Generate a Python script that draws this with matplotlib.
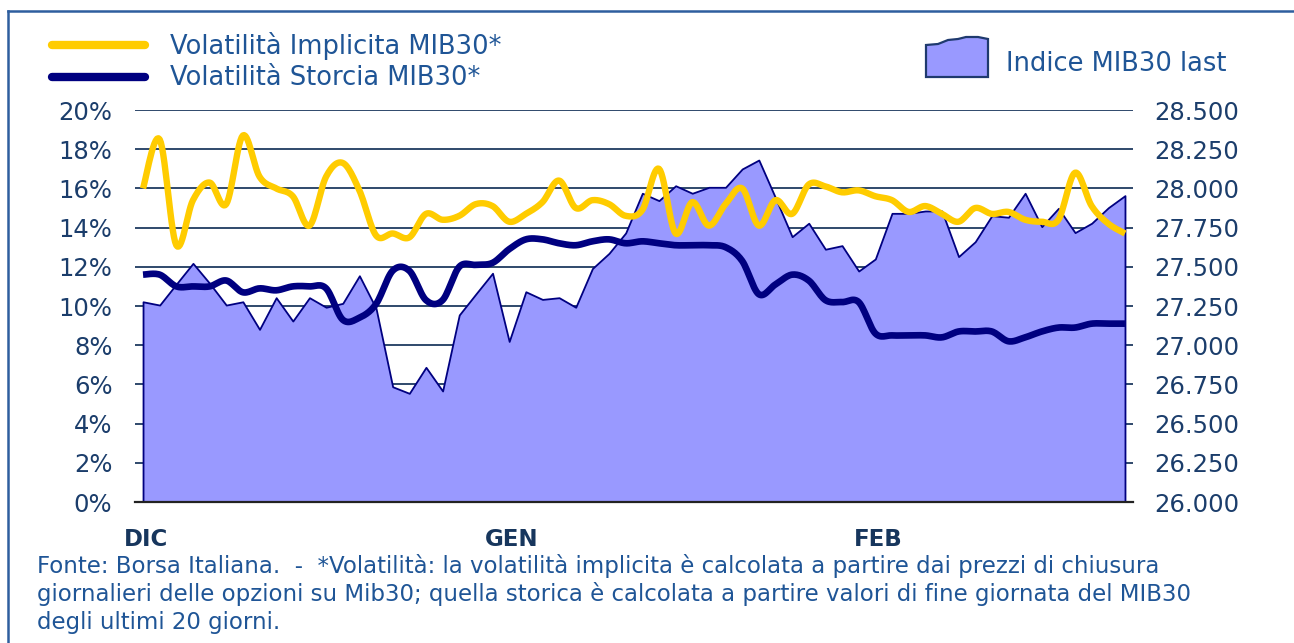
import matplotlib
matplotlib.use('Agg')
import matplotlib.pyplot as plt
import numpy as np
from matplotlib.lines import Line2D
from matplotlib.patches import Polygon
from matplotlib.ticker import FuncFormatter

plt.rcParams['font.family'] = ['DejaVu Sans']

# trading days Dec -> Feb (60 sessions)
mib30 = [27277, 27256, 27390, 27522, 27395, 27256, 27277, 27101, 27303, 27154,
         27303, 27242, 27267, 27443, 27235, 26735, 26693, 26859, 26708, 27193,
         27327, 27459, 27024, 27341, 27292, 27303, 27242, 27489, 27586, 27716,
         27969, 27922, 28017, 27969, 28007, 28007, 28124, 28181, 27940, 27692,
         27778, 27612, 27635, 27473, 27550, 27841, 27841, 27856, 27856, 27565,
         27660, 27826, 27816, 27969, 27756, 27873, 27718, 27778, 27877, 27954]
vol_impl = [16.0, 18.5, 13.1, 15.4, 16.3, 15.2, 18.7, 16.6, 16.0, 15.6,
            14.1, 16.6, 17.3, 15.9, 13.6, 13.7, 13.5, 14.7, 14.4, 14.6,
            15.2, 15.1, 14.3, 14.7, 15.3, 16.4, 15.0, 15.4, 15.2, 14.6,
            14.9, 17.0, 13.7, 15.3, 14.1, 15.2, 16.0, 14.1, 15.4, 14.7,
            16.2, 16.1, 15.8, 15.9, 15.6, 15.4, 14.8, 15.1, 14.7, 14.3,
            15.0, 14.7, 14.8, 14.4, 14.3, 14.4, 16.8, 15.1, 14.2, 13.7]
vol_stor = [11.6, 11.6, 11.0, 11.0, 11.0, 11.3, 10.7, 10.9, 10.8, 11.0,
            11.0, 10.9, 9.3, 9.4, 10.1, 11.8, 11.8, 10.3, 10.3, 12.0,
            12.1, 12.2, 12.9, 13.4, 13.4, 13.2, 13.1, 13.3, 13.4, 13.2,
            13.3, 13.2, 13.1, 13.1, 13.1, 13.0, 12.3, 10.6, 11.1, 11.6,
            11.3, 10.3, 10.2, 10.2, 8.6, 8.5, 8.5, 8.5, 8.4, 8.7,
            8.7, 8.7, 8.2, 8.4, 8.7, 8.9, 8.9, 9.1, 9.1, 9.1]
months = ['DIC', 'GEN', 'FEB']
month_start = [0, 22, 44]

TXT = '#1f5596'
AX_TXT = '#1b3d6b'
NAVY = '#000080'
YELLOW = '#ffcc00'
GRID = '#1f3a60'


def smooth(x, y, n=14):
    # Excel-like smoothed line (bezier with 1/6 handles)
    p = np.column_stack([x, y]).astype(float)
    q = np.vstack([p[0], p, p[-1]])
    t = np.linspace(0, 1, n, endpoint=False)[:, None]
    out = []
    for i in range(len(p) - 1):
        p0, p1, p2, p3 = q[i], q[i + 1], q[i + 2], q[i + 3]
        c1 = p1 + (p2 - p0) / 6
        c2 = p2 - (p3 - p1) / 6
        out.append((1 - t) ** 3 * p1 + 3 * (1 - t) ** 2 * t * c1 + 3 * (1 - t) * t ** 2 * c2 + t ** 3 * p2)
    out.append(p[-1][None, :])
    out = np.vstack(out)
    return out[:, 0], out[:, 1]


W, H = 1294, 643
fig = plt.figure(figsize=(W / 100, H / 100), dpi=100)
ax2 = fig.add_axes([134.7 / W, 141 / H, (1133.3 - 134.7) / W, (502 - 110) / H])
ax = ax2.twinx()
ax.yaxis.tick_left()
ax2.yaxis.tick_right()
ax.set_zorder(ax2.get_zorder() + 1)
ax.patch.set_visible(False)

x = np.arange(len(mib30))
n = len(mib30)

# index area on the right scale
ax2.fill_between(x, 26000, mib30, facecolor='#9999ff', edgecolor=NAVY, linewidth=1.3, zorder=2)
ax2.set_ylim(26000, 28500)
ax2.set_xlim(-0.5, n - 0.5)
ax2.set_yticks(np.arange(26000, 28501, 250))
ax2.yaxis.set_major_formatter(FuncFormatter(lambda v, p: f'{v:,.0f}'.replace(',', '.')))
ax2.grid(axis='y', color=GRID, linewidth=1.3, zorder=0)
ax2.set_axisbelow(True)

# volatility lines on the left scale
xs, ys = smooth(x, vol_impl)
ax.plot(xs, ys, color=YELLOW, linewidth=4.6, solid_capstyle='butt', zorder=3)
xs, ys = smooth(x, vol_stor)
ax.plot(xs, ys, color=NAVY, linewidth=4.8, solid_capstyle='butt', zorder=4)
ax.set_ylim(0, 20)
ax.set_yticks(np.arange(0, 21, 2))
ax.yaxis.set_major_formatter(FuncFormatter(lambda v, p: f'{v:.0f}%'))

for a in (ax, ax2):
    for s in a.spines.values():
        s.set_visible(False)
    a.tick_params(axis='y', length=0, labelsize=17.5, labelcolor=AX_TXT)
ax.tick_params(axis='y', pad=16)
ax2.tick_params(axis='y', pad=15)
ax.spines['bottom'].set_visible(True)
ax.spines['bottom'].set_color('#222222')
ax.spines['bottom'].set_linewidth(1.6)

ax.set_xticks([m - 0.5 for m in month_start])
ax.set_xticklabels([])
ax.tick_params(axis='x', length=6, width=1.4, color='#222222')
ax2.tick_params(axis='x', length=0, labelbottom=False)
for m, lab in zip(month_start, months):
    ax.text(m - 0.5 + 0.65, -0.095, lab, transform=ax.get_xaxis_transform(), ha='center', va='center',
            fontsize=16.5, fontweight='bold', color='#17365d')

# legend (drawn by hand in figure pixels)
def fx(px):
    return px / W


def fy(py):
    return 1 - py / H


fig.add_artist(Line2D([fx(52), fx(145)], [fy(45), fy(45)], color=YELLOW, linewidth=6, solid_capstyle='round'))
fig.add_artist(Line2D([fx(52), fx(145)], [fy(77), fy(77)], color=NAVY, linewidth=6, solid_capstyle='round'))
fig.text(fx(170), fy(46), 'Volatilità Implicita MIB30*', fontsize=18.5, color=TXT, va='center')
fig.text(fx(170), fy(78), 'Volatilità Storcia MIB30*', fontsize=18.5, color=TXT, va='center')
icon = [(926, 77), (926, 45), (938, 44), (948, 40), (958, 39), (966, 37), (978, 37), (988, 39), (988, 77)]
fig.add_artist(Polygon([(fx(a), fy(b)) for a, b in icon], closed=True, facecolor='#9999ff',
                       edgecolor='#1f3a6e', linewidth=1.6))
fig.text(fx(1006), fy(64), 'Indice MIB30 last', fontsize=18.5, color=TXT, va='center')

# footnote
notes = ['Fonte: Borsa Italiana.  -  *Volatilità: la volatilità implicita è calcolata a partire dai prezzi di chiusura',
         'giornalieri delle opzioni su Mib30; quella storica è calcolata a partire valori di fine giornata del MIB30',
         'degli ultimi 20 giorni.']
for k, line in enumerate(notes):
    fig.text(fx(37), fy(566 + 28 * k), line, fontsize=16.5, color=TXT, va='center')

# frame (top and left edges)
fig.add_artist(Line2D([fx(8), fx(1294)], [fy(11), fy(11)], color='#2e5e9e', linewidth=1.8))
fig.add_artist(Line2D([fx(8), fx(8)], [fy(11), fy(643)], color='#2e5e9e', linewidth=1.8))

fig.savefig('out.png', dpi=100, facecolor='white')
